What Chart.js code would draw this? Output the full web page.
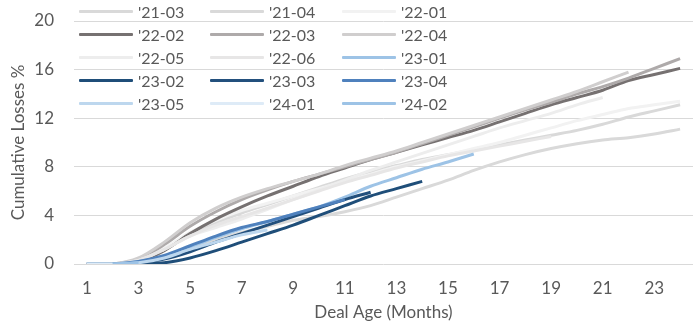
<!DOCTYPE html>
<html>
<head>
<meta charset="utf-8">
<script src="https://cdn.jsdelivr.net/npm/chart.js@4.4.1/dist/chart.umd.min.js"></script>
<style>
  body { margin: 0; background: #fff; }
  #wrap { position: relative; width: 697px; height: 327px; }
  #legend {
    position: absolute; left: 79px; top: 0px;
    display: grid; grid-template-columns: 131px 132px 131px;
    grid-auto-rows: 23px;
    font-family: Lato, 'Open Sans', sans-serif; font-size: 16px; color: #595959;
    pointer-events: none;
  }
  .item { display: flex; align-items: center; }
  .swatch { width: 54px; height: 3px; margin-right: 5px; border-radius: 1px; }
</style>
</head>
<body>
<div id="wrap">
  <canvas id="chart"></canvas>
  <div id="legend"></div>
</div>
<script>
// deal age in months
const months = ['1','2','3','4','5','6','7','8','9','10','11','12','13','14','15','16','17','18','19','20','21','22','23','24'];

const vintages = ["'21-03", "'21-04", "'22-01", "'22-02", "'22-03", "'22-04", "'22-05", "'22-06",
                  "'23-01", "'23-02", "'23-03", "'23-04", "'23-05", "'24-01", "'24-02"];

const colors = ['#d9d9d9', '#d9d9d9', '#f2f2f2', '#767171', '#aeaaaa', '#d0cece', '#ededed', '#e7e6e6',
                '#9dc3e6', '#1f4e79', '#23507d', '#4f81bd', '#bdd7ee', '#deebf7', '#9dc3e6'];

// cumulative losses % by month
const v21_03 = [0, 0, 0.2, 0.6, 1.3, 2.0, 2.6, 3.1, 3.6, 3.9, 4.3, 4.8, 5.5, 6.2, 6.9, 7.7, 8.4, 9.0, 9.5, 9.9, 10.2, 10.4, 10.7, 11.1];
const v21_04 = [0, 0, 0.3, 1.2, 2.4, 3.4, 4.2, 4.9, 5.6, 6.3, 7.0, 7.6, 8.1, 8.6, 9.0, 9.4, 9.8, 10.2, 10.6, 11.0, 11.5, 12.1, 12.6, 13.1];
const v22_01 = [0, 0, 0.3, 1.3, 2.6, 3.6, 4.4, 5.0, 5.6, 6.2, 6.8, 7.4, 8.0, 8.5, 9.0, 9.5, 10.0, 10.6, 11.2, 11.8, 12.3, 12.8, 13.1, 13.4];
const v22_02 = [0, 0, 0.2, 1.1, 2.5, 3.7, 4.7, 5.6, 6.4, 7.2, 7.9, 8.6, 9.2, 9.8, 10.4, 11.0, 11.7, 12.4, 13.1, 13.7, 14.3, 15.1, 15.6, 16.1];
const v22_03 = [0, 0, 0.4, 1.6, 3.1, 4.3, 5.3, 6.1, 6.8, 7.4, 8.0, 8.6, 9.2, 9.9, 10.6, 11.3, 12.0, 12.7, 13.3, 14.0, 14.6, 15.3, 16.1, 16.9];
const v22_04 = [0, 0, 0.5, 1.8, 3.4, 4.6, 5.5, 6.2, 6.8, 7.4, 8.1, 8.7, 9.3, 10.0, 10.7, 11.4, 12.1, 12.8, 13.5, 14.2, 15.0, 15.8];
const v22_05 = [0, 0, 0.3, 1.2, 2.3, 3.0, 3.7, 4.5, 5.3, 6.1, 6.9, 7.7, 8.4, 9.1, 9.8, 10.5, 11.2, 11.8, 12.4, 13.1, 13.7];
const v22_06 = [0, 0, 0.3, 1.2, 2.3, 3.2, 3.9, 4.6, 5.3, 6.0, 6.7, 7.3, 7.9, 8.4, 8.9, 9.3, 9.7, 10.1, 10.5];
const v23_01 = [0, 0, 0.2, 0.6, 1.4, 2.2, 2.9, 3.5, 4.1, 4.7, 5.5, 6.4, 7.1, 7.8, 8.4, 9.05];
const v23_02 = [0, 0, 0, 0.1, 0.5, 1.1, 1.8, 2.5, 3.2, 4.0, 4.8, 5.6, 6.2, 6.8];
const v23_03 = [0, 0, 0.1, 0.4, 1.0, 1.8, 2.5, 3.2, 3.9, 4.6, 5.3, 5.9];
const v23_04 = [0, 0, 0.2, 0.7, 1.5, 2.3, 3.0, 3.5, 4.1, 4.7, 5.3];
const v23_05 = [0, 0, 0.1, 0.5, 1.2, 1.8, 2.4, 2.8];
const v24_01 = [0, 0];
const v24_02 = [null, 0, 0.1];

const seriesData = [v21_03, v21_04, v22_01, v22_02, v22_03, v22_04, v22_05, v22_06,
                    v23_01, v23_02, v23_03, v23_04, v23_05, v24_01, v24_02];

const yTicks = [0, 4, 8, 12, 16, 20];

const fontFamily = "Lato, 'Open Sans', sans-serif";
const textColor = '#595959';

// later vintages drawn on top, like the excel original
const datasets = vintages.map((name, i) => ({
  label: name,
  data: seriesData[i],
  borderColor: colors[i],
  backgroundColor: colors[i],
  borderWidth: 3,
  pointRadius: 0,
  tension: 0.3,
  fill: false,
  order: vintages.length - 1 - i
}));

new Chart(document.getElementById('chart'), {
  type: 'line',
  data: { labels: months, datasets: datasets },
  options: {
    responsive: true,
    maintainAspectRatio: false,
    animation: false,
    layout: { padding: { top: 21, right: 4, left: 0, bottom: 0 } },
    plugins: {
      legend: { display: false },
      tooltip: { enabled: false }
    },
    scales: {
      x: {
        offset: true,
        // invisible tick marks give the label gap without padding the chart area
        grid: { display: false, drawTicks: true, tickLength: 11, tickColor: 'rgba(0,0,0,0)' },
        border: { display: false },
        ticks: {
          autoSkip: false,
          maxRotation: 0,
          padding: 3,
          color: textColor,
          font: { family: fontFamily, size: 17 },
          callback: function(val, idx) { return idx % 2 === 0 ? months[idx] : ''; }
        },
        title: {
          display: true,
          text: 'Deal Age (Months)',
          color: textColor,
          font: { family: fontFamily, size: 17 },
          padding: { top: 0, bottom: 4 }
        },
        afterFit: function(scale) { scale.height = 63; }
      },
      y: {
        min: 0,
        max: 20,
        afterBuildTicks: function(scale) { scale.ticks = yTicks.map(v => ({ value: v })); },
        grid: { color: '#d9d9d9', lineWidth: 1, drawTicks: true, tickLength: 17, tickColor: 'rgba(0,0,0,0)' },
        border: { display: false },
        ticks: {
          padding: 3,
          color: textColor,
          font: { family: fontFamily, size: 17 }
        },
        title: {
          display: true,
          text: 'Cumulative Losses %',
          color: textColor,
          font: { family: fontFamily, size: 17 },
          padding: { top: 8, bottom: 0 }
        },
        afterFit: function(scale) { scale.width = 74; }
      }
    }
  }
});

// legend laid over the plot, 3 columns like the original
const legendEl = document.getElementById('legend');
vintages.forEach((name, i) => {
  const item = document.createElement('div');
  item.className = 'item';
  item.innerHTML = '<span class="swatch" style="background:' + colors[i] + '"></span><span>' + name + '</span>';
  legendEl.appendChild(item);
});
</script>
</body>
</html>
